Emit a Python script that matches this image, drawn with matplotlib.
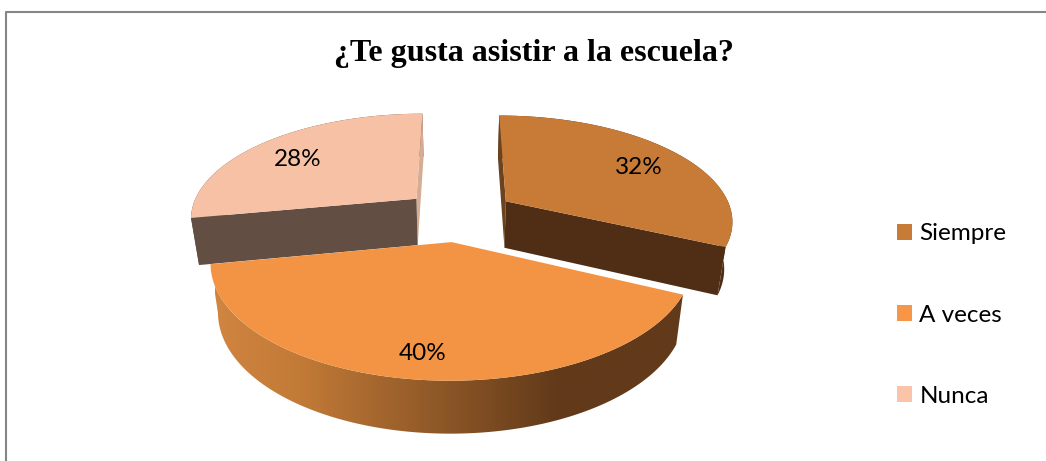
import numpy as np
import matplotlib
matplotlib.use("Agg")
import matplotlib.pyplot as plt
from matplotlib.colors import LinearSegmentedColormap
from matplotlib.patches import Patch, Polygon

categories = ["Siempre", "A veces", "Nunca"]
values = [32, 40, 28]

top_colors = ["#C87B37", "#F39444", "#F6C1A5"]
legend_colors = ["#C87B37", "#F79646", "#FAC4A9"]
cut_colors = ["#4F2E15", "#623A1A", "#624E42"]
sliver_colors = ["#6B431F", "#623A1A", "#D5AC94"]
label_xy = [(639, 167), (423, 353), (298, 159)]

# fake 3d camera, everything in pixels
CX, CY = 459, 215
RX, RY = 227, 104.6
PERSP = 0.17
EXPLODE = 0.25
DEPTH = 47
SHRINK = 0.97

# left to right shading of the front wall
wall_cmap = LinearSegmentedColormap.from_list(
    "wall", [(0, "#D08540"), (0.18, "#C27A37"), (0.72, "#623A1A"), (1, "#623A1A")])


def project(u, v, bottom=False):
    p = 1 / (1 + PERSP * v)
    x = RX * u * p
    y = -RY * v * p
    if bottom:
        return CX + x * SHRINK, CY + y + DEPTH * np.sqrt(p)
    return CX + x, CY + y


def draw_slice(ax, a0, a1, i):
    mid = np.radians((a0 + a1) / 2)
    ou, ov = EXPLODE * np.cos(mid), EXPLODE * np.sin(mid)
    t = np.radians(np.linspace(a0, a1, 200))
    u = ou + np.cos(t)
    v = ov + np.sin(t)
    x_top, y_top = project(u, v)
    x_bot, y_bot = project(u, v, bottom=True)
    ax_top, ay_top = project(ou, ov)
    ax_bot, ay_bot = project(ou, ov, bottom=True)

    wall = np.c_[np.r_[x_top, x_bot[::-1]], np.r_[y_top, y_bot[::-1]]]
    if i == 1:
        # gradient image clipped to the wall outline
        im = ax.imshow(np.linspace(0, 1, 256)[None, :], cmap=wall_cmap, aspect="auto",
                       extent=(215, 690, 461, 0), interpolation="bilinear")
        im.set_clip_path(Polygon(wall, transform=ax.transData))
        ax.set_xlim(0, 1046)
        ax.set_ylim(461, 0)
    else:
        ax.fill(wall[:, 0], wall[:, 1], color=cut_colors[i], lw=0)

        # flat cut faces, the one facing us is the dark one
        front, back = (-1, 0) if i == 0 else (0, -1)
        for end, col in [(back, sliver_colors[i]), (front, cut_colors[i])]:
            ax.fill([ax_top, x_top[end], x_bot[end], ax_bot],
                    [ay_top, y_top[end], y_bot[end], ay_bot], color=col, lw=0)

    ax.fill(np.r_[ax_top, x_top], np.r_[ay_top, y_top], color=top_colors[i], lw=0)


fig = plt.figure(figsize=(10.46, 4.61), dpi=100)
ax = fig.add_axes([0, 0, 1, 1])
ax.set_xlim(0, 1046)
ax.set_ylim(461, 0)
ax.axis("off")

ax.plot([6, 6, 1046], [461, 12, 12], color="#868686", lw=1.5)

# clockwise from 12 o'clock, back slices first
spans = 360 * np.array(values) / sum(values)
starts = 90 - np.r_[0, np.cumsum(spans)[:-1]]
for i in [0, 2, 1]:
    draw_slice(ax, starts[i], starts[i] - spans[i], i)

for val, (x, y) in zip(values, label_xy):
    ax.text(x, y, f"{val}%", ha="center", va="center", family="Lato", fontsize=17.5, color="black")

ax.text(534, 54, "¿Te gusta asistir a la escuela?", ha="center", va="center",
        family="Liberation Serif", fontweight="bold", fontsize=23, color="black")

handles = [Patch(facecolor=c, edgecolor="none", label=n) for c, n in zip(legend_colors, categories)]
ax.legend(handles=handles, loc="center left", bbox_to_anchor=(897 / 1046, 1 - 315 / 461), frameon=False,
          prop={"family": "Lato", "size": 17.5}, handlelength=0.62, handleheight=0.62,
          handletextpad=0.3, labelspacing=2.48, borderpad=0, borderaxespad=0)

fig.savefig("out.png", dpi=100)
